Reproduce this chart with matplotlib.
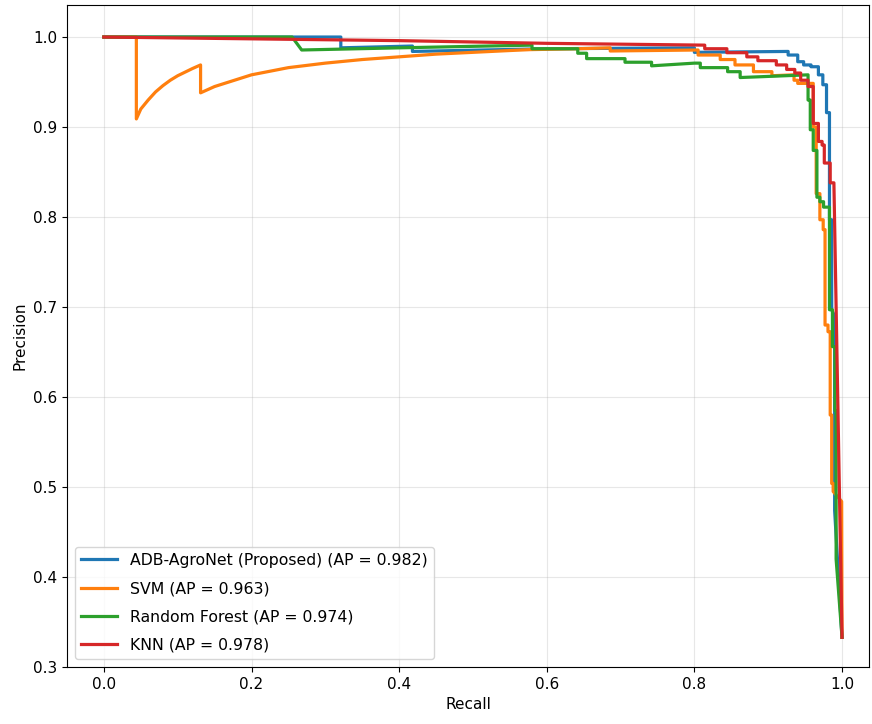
import matplotlib
matplotlib.use('Agg')
import matplotlib.pyplot as plt

# model names and average precision
labels = ['ADB-AgroNet (Proposed)', 'SVM', 'Random Forest', 'KNN']
ap_values = [0.982, 0.963, 0.974, 0.978]
colors = ['#1f77b4', '#ff7f0e', '#2ca02c', '#d62728']

# precision-recall points
adb_recall = [0.0, 0.321, 0.321, 0.418, 0.418, 0.60, 0.80, 0.80, 0.927, 0.927, 0.940, 0.940,
              0.948, 0.948, 0.958, 0.958, 0.968, 0.968, 0.974, 0.974, 0.979, 0.979, 0.983,
              0.983, 0.986, 0.986, 0.990, 0.990, 1.0]
adb_precision = [1.0, 1.0, 0.988, 0.990, 0.984, 0.987, 0.988, 0.983, 0.984, 0.980, 0.980, 0.9726,
                 0.9726, 0.969, 0.969, 0.967, 0.967, 0.958, 0.958, 0.947, 0.947, 0.916, 0.916,
                 0.797, 0.797, 0.697, 0.690, 0.474, 0.333]

svm_recall = [0.0, 0.044, 0.044, 0.05, 0.06, 0.07, 0.08, 0.09, 0.10, 0.11, 0.12, 0.131, 0.131,
              0.15, 0.20, 0.25, 0.30, 0.35, 0.40, 0.45, 0.50, 0.55, 0.577, 0.642, 0.686, 0.686,
              0.805, 0.805, 0.835, 0.835, 0.855, 0.855, 0.880, 0.880, 0.905, 0.905, 0.935,
              0.935, 0.940, 0.940, 0.961, 0.961, 0.965, 0.965, 0.970, 0.970, 0.9745, 0.9745,
              0.977, 0.977, 0.981, 0.981, 0.984, 0.984, 0.986, 0.986, 0.988, 0.988, 0.9995, 1.0]
svm_precision = [1.0, 1.0, 0.909, 0.920, 0.930, 0.939, 0.946, 0.952, 0.957, 0.961, 0.965, 0.969, 0.938,
                 0.945, 0.958, 0.966, 0.971, 0.975, 0.978, 0.981, 0.983, 0.985, 0.986, 0.987, 0.988, 0.9845,
                 0.9856, 0.980, 0.980, 0.975, 0.975, 0.969, 0.969, 0.9615, 0.9615, 0.957, 0.958,
                 0.952, 0.952, 0.9485, 0.9485, 0.900, 0.900, 0.826, 0.826, 0.797, 0.797, 0.786,
                 0.786, 0.680, 0.680, 0.6726, 0.6726, 0.580, 0.580, 0.504, 0.504, 0.495, 0.484, 0.333]

rf_recall = [0.0, 0.255, 0.268, 0.40, 0.58, 0.58, 0.642, 0.642, 0.654, 0.654, 0.706, 0.706, 0.742,
             0.742, 0.80, 0.808, 0.808, 0.845, 0.845, 0.862, 0.862, 0.954, 0.954, 0.957, 0.957,
             0.961, 0.961, 0.966, 0.966, 0.970, 0.970, 0.975, 0.975, 0.983, 0.983, 0.987, 0.987,
             0.9905, 0.9905, 0.992, 0.992, 1.0]
rf_precision = [1.0, 1.0, 0.9856, 0.988, 0.991, 0.987, 0.987, 0.982, 0.982, 0.976, 0.976, 0.972, 0.972,
                0.968, 0.971, 0.971, 0.966, 0.966, 0.9615, 0.9615, 0.955, 0.958, 0.930, 0.930, 0.897,
                0.897, 0.874, 0.874, 0.822, 0.822, 0.817, 0.817, 0.811, 0.811, 0.697, 0.697, 0.656,
                0.656, 0.585, 0.585, 0.420, 0.333]

knn_recall = [0.0, 0.2, 0.4, 0.6, 0.814, 0.814, 0.844, 0.844, 0.871, 0.871, 0.886, 0.886, 0.911,
              0.911, 0.925, 0.925, 0.936, 0.936, 0.944, 0.944, 0.954, 0.954, 0.961, 0.961, 0.968,
              0.968, 0.973, 0.973, 0.976, 0.976, 0.984, 0.984, 0.989, 1.0]
knn_precision = [1.0, 0.998, 0.996, 0.993, 0.991, 0.987, 0.987, 0.9826, 0.9826, 0.978, 0.978, 0.9737,
                 0.9737, 0.969, 0.969, 0.964, 0.964, 0.960, 0.960, 0.952, 0.952, 0.945, 0.945, 0.904,
                 0.904, 0.884, 0.884, 0.880, 0.880, 0.860, 0.860, 0.838, 0.838, 0.333]

recalls = [adb_recall, svm_recall, rf_recall, knn_recall]
precisions = [adb_precision, svm_precision, rf_precision, knn_precision]

fig = plt.figure(figsize=(8.72, 7.24), dpi=100)
ax = fig.add_axes([0.0768, 0.0787, 0.9198, 0.9144])

for r, p, name, ap, c in zip(recalls, precisions, labels, ap_values, colors):
    ax.plot(r, p, color=c, linewidth=2.3, label=f'{name} (AP = {ap:.3f})')

ax.set_xlim(-0.05, 1.0366)
ax.set_ylim(0.3, 1.0356)
ax.set_xlabel('Recall', fontsize=11)
ax.set_ylabel('Precision', fontsize=11)
ax.tick_params(labelsize=11)
ax.grid(True, alpha=0.3)
ax.legend(loc='lower left', fontsize=11.3, labelspacing=0.85, handlelength=2.3)

fig.savefig('out.png', dpi=100)
